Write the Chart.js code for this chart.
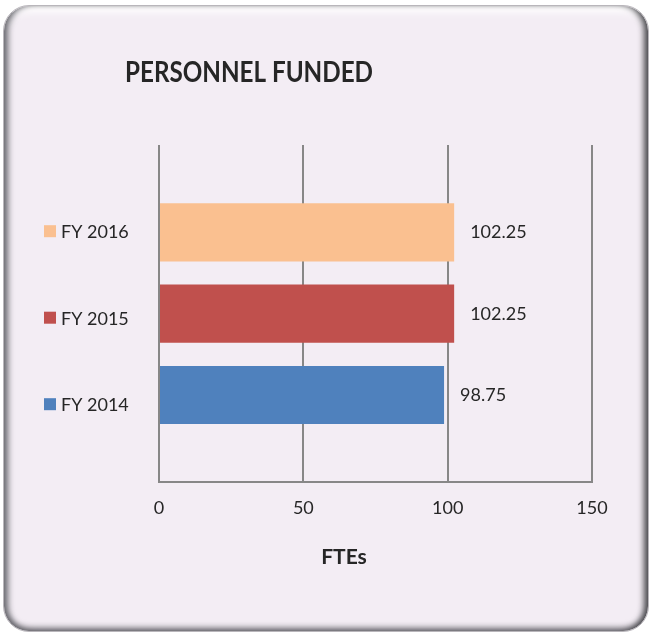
<!DOCTYPE html>
<html>
<head>
<meta charset="utf-8">
<script src="https://cdn.jsdelivr.net/npm/chart.js@4"></script>
<style>
  html, body { margin: 0; padding: 0; background: #ffffff; }
  #frame {
    position: absolute; left: 3px; top: 5px; width: 646px; height: 627px;
    box-sizing: border-box;
    border-radius: 26px;
    background: #f3edf4;
    border: 1px solid #b9b6bb;
    box-shadow:
      inset -7px 0 6px -3px #4a4a4e,
      inset 7px 0 6px -3px #6a6a70,
      inset 0 -6px 6px -3px #6d6b72,
      inset 0 10px 8px -4px #ffffff;
  }
  #chart { position: absolute; left: 0; top: 0; }
</style>
</head>
<body>
<div id="frame"></div>
<canvas id="chart" width="654" height="637"></canvas>
<script>
// --- chart data ---
const chartTitle = 'PERSONNEL FUNDED';
const axisTitle = 'FTEs';
const categories = [''];
const seriesNames = ['FY 2016', 'FY 2015', 'FY 2014'];
const seriesValues = [102.25, 102.25, 98.75];
const seriesColors = ['#fac090', '#c0504d', '#4f81bd'];
const xTicks = [0, 50, 100, 150];

const FONT = 'Lato, "Open Sans", sans-serif';
const TEXT = '#262626';

// title, legend, axis title and value labels are drawn here
const decorPlugin = {
    id: 'decor',
    afterDatasetsDraw(chart) {
        const ctx = chart.ctx;
        const area = chart.chartArea;
        ctx.save();
        ctx.fillStyle = TEXT;
        ctx.textBaseline = 'middle';

        // value labels right of each bar
        ctx.font = '18px ' + FONT;
        ctx.textAlign = 'left';
        chart.data.datasets.forEach((ds, i) => {
            const bar = chart.getDatasetMeta(i).data[0];
            ctx.fillText(String(ds.data[0]), bar.x + 16, bar.y);
        });

        // title: squeeze a bit so it reads like the narrow original font
        ctx.font = 'bold 29px ' + FONT;
        ctx.textAlign = 'center';
        const sx = Math.min(1, 248 / ctx.measureText(chartTitle).width);
        ctx.save();
        ctx.translate(249, 73);
        ctx.scale(sx, 1);
        ctx.fillText(chartTitle, 0, 0);
        ctx.restore();

        // axis title
        ctx.font = 'bold 21px ' + FONT;
        ctx.fillText(axisTitle, 344, 557);

        // legend on the left
        const midY = (area.top + area.bottom) / 2 + 4;
        ctx.font = '18px ' + FONT;
        ctx.textAlign = 'left';
        seriesNames.forEach((name, i) => {
            const y = midY + (i - 1) * 86.5;
            ctx.fillStyle = seriesColors[i];
            ctx.fillRect(44, y - 6, 12, 12);
            ctx.fillStyle = TEXT;
            ctx.fillText(name, 61, y + 1);
        });
        ctx.restore();
    }
};

new Chart(document.getElementById('chart'), {
    type: 'bar',
    data: {
        labels: categories,
        datasets: seriesNames.map((name, i) => ({
            label: name,
            data: [seriesValues[i]],
            backgroundColor: seriesColors[i],
            borderWidth: 0,
            categoryPercentage: 0.723,
            barPercentage: 0.716
        }))
    },
    options: {
        indexAxis: 'y',
        responsive: false,
        animation: false,
        devicePixelRatio: 1,
        layout: { padding: { left: 159, top: 145, right: 62, bottom: 103 } },
        plugins: {
            legend: { display: false },
            title: { display: false },
            tooltip: { enabled: false }
        },
        scales: {
            x: {
                min: 0,
                max: 150,
                afterBuildTicks: (scale) => { scale.ticks = xTicks.map(v => ({ value: v })); },
                ticks: { color: TEXT, font: { family: FONT, size: 18 }, padding: 15 },
                grid: { color: '#878787', lineWidth: 2, drawTicks: false },
                border: { color: '#878787', width: 2 }
            },
            y: { display: false }
        }
    },
    plugins: [decorPlugin]
});
</script>
</body>
</html>
